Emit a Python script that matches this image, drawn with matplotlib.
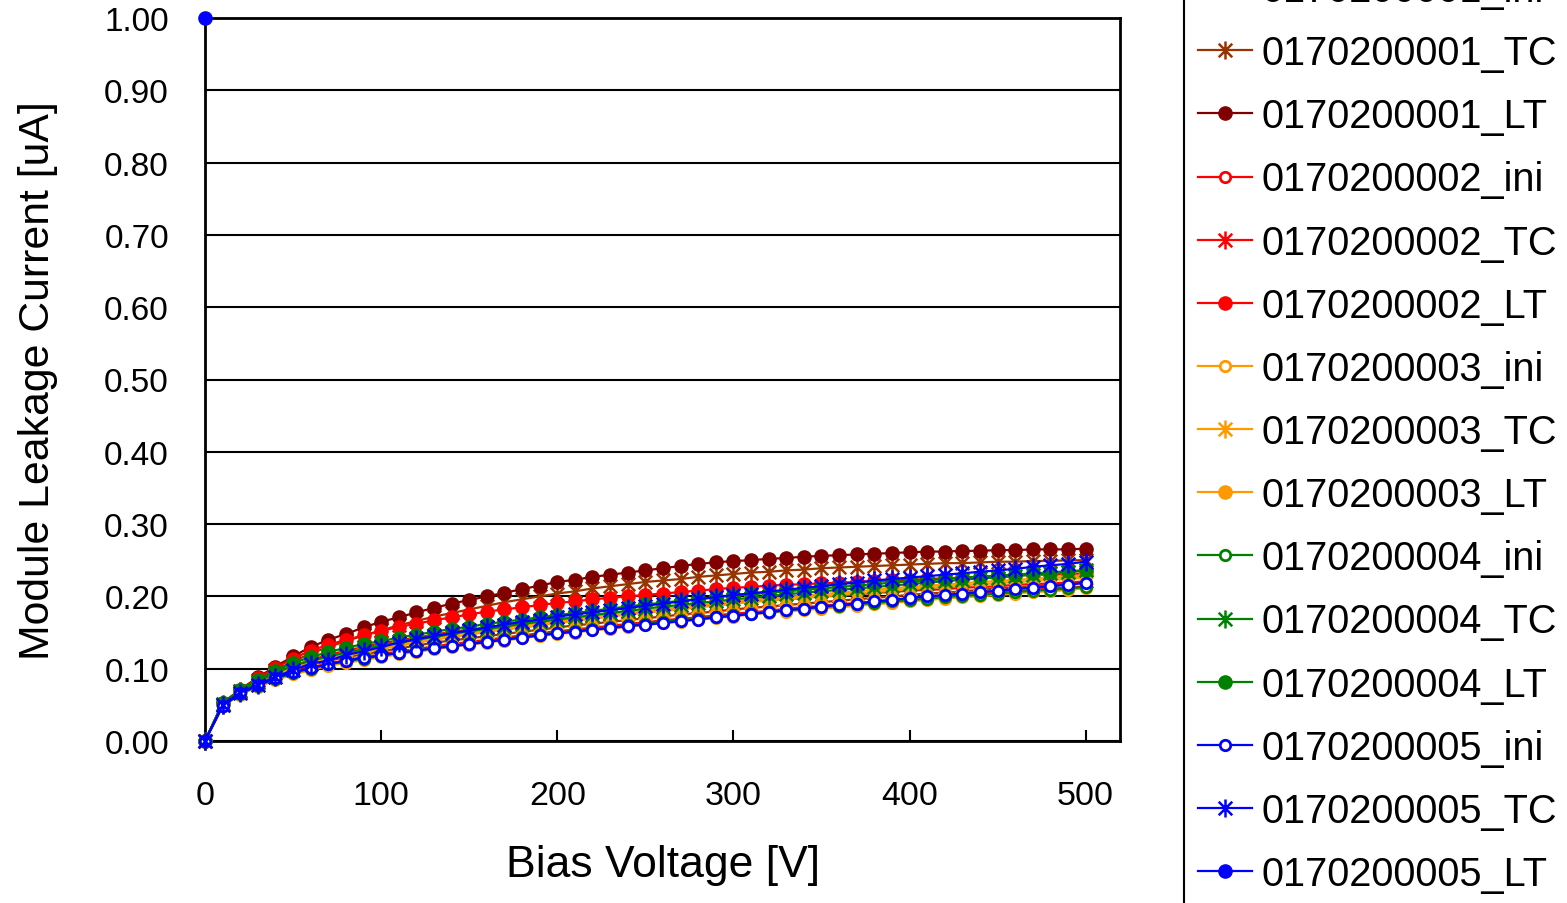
import matplotlib
matplotlib.use("Agg")
import matplotlib.pyplot as plt
from matplotlib.path import Path

plt.rcParams['font.family'] = ['Liberation Sans', 'DejaVu Sans']

voltage = list(range(0, 510, 10))

s1_ini = [0, .050, .067, .079, .090, .098, .105, .111, .116, .120, .124, .128, .132, .136, .139, .142, .145, .148, .151, .154, .157, .160, .162, .165, .167, .170, .172, .175, .177, .179, .182, .184, .186, .188, .190, .192, .194, .196, .198, .200, .202, .204, .205, .207, .209, .211, .212, .214, .216, .217, .219]
s1_tc = [0, .050, .069, .085, .098, .110, .121, .130, .138, .146, .153, .160, .166, .172, .177, .182, .187, .192, .196, .200, .204, .207, .211, .214, .217, .220, .222, .224, .227, .229, .231, .233, .234, .236, .237, .239, .240, .241, .242, .243, .244, .245, .246, .246, .247, .248, .248, .249, .249, .250, .250]
s1_lt = [0, .052, .071, .088, .103, .117, .130, .140, .148, .157, .165, .171, .178, .184, .190, .195, .200, .205, .210, .215, .220, .223, .227, .230, .233, .236, .239, .242, .245, .247, .249, .250, .252, .253, .255, .256, .257, .258, .259, .260, .261, .262, .262, .263, .263, .264, .264, .265, .265, .265, .266]
s2_ini = [0, .049, .066, .077, .087, .095, .102, .107, .112, .116, .120, .124, .127, .131, .134, .137, .140, .143, .146, .149, .152, .154, .157, .159, .162, .164, .167, .169, .171, .174, .176, .178, .180, .183, .185, .187, .189, .191, .193, .195, .197, .199, .200, .202, .204, .206, .207, .209, .211, .212, .214]
s2_tc = [0, .051, .069, .082, .094, .104, .112, .119, .125, .130, .135, .139, .143, .147, .151, .154, .157, .160, .163, .166, .168, .171, .173, .176, .178, .180, .182, .185, .187, .189, .191, .193, .195, .196, .198, .200, .201, .203, .205, .206, .208, .209, .210, .212, .213, .214, .216, .217, .218, .219, .221]
s2_lt = [0, .053, .071, .087, .101, .114, .125, .133, .140, .146, .152, .158, .162, .167, .171, .175, .179, .182, .185, .188, .191, .193, .196, .198, .200, .202, .204, .206, .208, .210, .212, .213, .215, .216, .217, .218, .219, .220, .221, .222, .223, .224, .225, .226, .227, .228, .229, .230, .230, .231, .232]
s3_ini = [0, .048, .064, .075, .084, .092, .098, .104, .108, .112, .116, .120, .123, .127, .130, .133, .136, .139, .142, .145, .148, .150, .153, .155, .158, .160, .163, .165, .168, .170, .172, .175, .177, .179, .181, .183, .185, .187, .189, .191, .193, .195, .197, .199, .200, .202, .204, .206, .207, .209, .211]
s3_tc = [0, .050, .068, .080, .091, .100, .107, .113, .118, .123, .128, .132, .136, .140, .144, .147, .151, .154, .157, .160, .163, .166, .169, .172, .175, .177, .180, .182, .185, .187, .190, .192, .194, .196, .198, .200, .202, .204, .206, .208, .210, .212, .213, .215, .217, .218, .220, .221, .223, .224, .226]
s3_lt = [0, .051, .069, .082, .093, .102, .109, .115, .121, .126, .130, .135, .139, .143, .147, .150, .154, .157, .160, .163, .166, .169, .172, .175, .178, .180, .183, .185, .188, .190, .193, .195, .197, .199, .201, .203, .205, .207, .209, .211, .213, .215, .216, .218, .220, .221, .223, .224, .226, .227, .229]
s4_ini = [0, .049, .065, .076, .086, .094, .100, .106, .110, .114, .118, .122, .125, .129, .132, .135, .138, .141, .144, .147, .150, .152, .155, .157, .160, .162, .165, .167, .169, .172, .174, .176, .178, .181, .183, .185, .187, .189, .191, .193, .195, .197, .199, .201, .202, .204, .206, .208, .209, .211, .213]
s4_tc = [0, .051, .069, .082, .094, .104, .111, .117, .122, .127, .132, .136, .140, .144, .148, .152, .155, .158, .162, .165, .168, .171, .174, .177, .180, .183, .186, .188, .191, .193, .196, .198, .200, .203, .205, .207, .209, .211, .213, .215, .217, .219, .221, .223, .225, .226, .228, .230, .232, .234, .236]
s4_lt = [0, .052, .071, .085, .097, .108, .116, .123, .129, .134, .138, .143, .147, .151, .155, .158, .162, .165, .168, .171, .174, .177, .180, .183, .186, .189, .191, .194, .196, .199, .201, .203, .205, .207, .209, .211, .213, .215, .217, .219, .221, .222, .224, .226, .227, .229, .230, .232, .233, .235, .236]
s5_ini = [0, .048, .066, .077, .087, .095, .101, .106, .111, .115, .118, .122, .125, .128, .131, .134, .137, .140, .143, .146, .149, .151, .154, .156, .159, .161, .163, .166, .168, .171, .173, .176, .178, .181, .183, .186, .188, .190, .193, .195, .198, .200, .202, .204, .206, .208, .210, .212, .214, .216, .219]
s5_tc = [0, .050, .067, .078, .089, .098, .107, .111, .119, .124, .130, .136, .141, .145, .149, .153, .157, .161, .165, .168, .172, .175, .178, .181, .184, .187, .190, .193, .196, .199, .202, .204, .207, .209, .212, .214, .217, .219, .222, .224, .226, .228, .230, .232, .234, .236, .238, .241, .243, .245, .248]
s5_lt_v = [0]
s5_lt = [1.00]

labels = ["0170200001_ini", "0170200001_TC", "0170200001_LT",
          "0170200002_ini", "0170200002_TC", "0170200002_LT",
          "0170200003_ini", "0170200003_TC", "0170200003_LT",
          "0170200004_ini", "0170200004_TC", "0170200004_LT",
          "0170200005_ini", "0170200005_TC", "0170200005_LT"]
series = [s1_ini, s1_tc, s1_lt, s2_ini, s2_tc, s2_lt, s3_ini, s3_tc, s3_lt,
          s4_ini, s4_tc, s4_lt, s5_ini, s5_tc, s5_lt]
colors = ["#993300", "#993300", "#800000",
          "#FF0000", "#FF0000", "#FF0000",
          "#FF9900", "#FF9900", "#FF9900",
          "#008000", "#008000", "#008000",
          "#0000FF", "#0000FF", "#0000FF"]
kinds = ["ini", "tc", "lt"] * 5

# Excel-style star marker: vertical bar plus an X
star = Path([(0, -1), (0, 1), (-0.75, -0.75), (0.75, 0.75), (-0.75, 0.75), (0.75, -0.75)],
            [Path.MOVETO, Path.LINETO, Path.MOVETO, Path.LINETO, Path.MOVETO, Path.LINETO])

fig = plt.figure(figsize=(15.67, 9.04), dpi=100)
ax = fig.add_axes([205/1567, 1-742/904, (1120-205)/1567, (742-19)/904])

for i, (lab, ys, c, k) in enumerate(zip(labels, series, colors, kinds)):
    xs = s5_lt_v if lab == "0170200005_LT" else voltage
    if k == "ini":
        ax.plot(xs, ys, color=c, lw=1.6, marker='o', ms=7.5, mfc='white', mec=c, mew=2.0,
                label=lab, clip_on=False, zorder=3 + i)
    elif k == "tc":
        ax.plot(xs, ys, color=c, lw=1.6, marker=star, ms=13, mec=c, mew=1.8,
                label=lab, clip_on=False, zorder=3 + i)
    else:
        ax.plot(xs, ys, color=c, lw=1.6, marker='o', ms=9.5, mfc=c, mec=c,
                label=lab, clip_on=False, zorder=3 + i)

ax.set_xlim(0, 519.5)
ax.set_ylim(0, 1.0)
ax.set_xticks([0, 100, 200, 300, 400, 500])
ax.set_yticks([i / 10 for i in range(11)])
ax.set_yticklabels([f"{i/10:.2f}" for i in range(11)])
ax.yaxis.grid(True, color='black', lw=1.5)
ax.set_axisbelow(True)
for sp in ax.spines.values():
    sp.set_linewidth(2)
    sp.set_color('black')
ax.tick_params(axis='x', direction='in', length=8, width=1.5, pad=28, labelsize=24.5)
ax.tick_params(axis='y', length=0, pad=26, labelsize=24)

ax.set_xlabel("Bias Voltage [V]", fontsize=32, labelpad=24)
ax.set_ylabel("Module Leakage Current [uA]", fontsize=30.8, labelpad=33)

leg = fig.legend(loc='center left', bbox_to_anchor=(1184/1567, 1-433/904),
                 bbox_transform=fig.transFigure, fontsize=28.6, frameon=True,
                 fancybox=False, edgecolor='black', framealpha=1,
                 handlelength=1.36, handletextpad=0.25, labelspacing=0.633,
                 borderpad=0.35, borderaxespad=0, markerscale=1.0)
leg.get_frame().set_linewidth(1.5)

fig.savefig("out.png", dpi=100)
